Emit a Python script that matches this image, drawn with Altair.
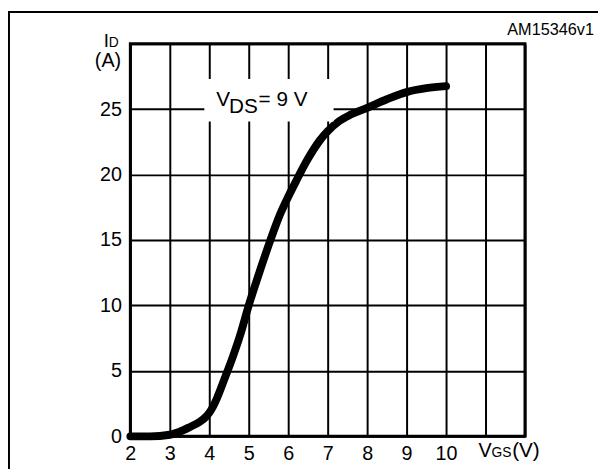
import altair as alt
import pandas as pd

# Transfer characteristic: VGS (V) vs ID (A)
vgs = [2.0, 2.5, 3.0, 3.25, 3.5, 3.75, 3.9, 4.0, 4.1, 4.2, 4.4, 4.6, 4.8, 5.0,
       5.3, 5.55, 5.8, 6.0, 6.2, 6.5, 6.8, 7.0, 7.3, 7.6, 8.0, 8.5, 9.0, 9.5, 10.0]
id_a = [0.0, 0.0, 0.12, 0.35, 0.7, 1.1, 1.45, 1.8, 2.3, 2.95, 4.5, 6.1, 7.9, 10.0,
        12.8, 15.0, 17.0, 18.3, 19.5, 21.2, 22.6, 23.3, 24.1, 24.6, 25.1, 25.75, 26.3, 26.6, 26.75]

x_ticks = [2, 3, 4, 5, 6, 7, 8, 9, 10, 11, 12]
y_ticks = [0, 5, 10, 15, 20, 25, 30]

# white label box (data coords)
box_x = [3.875]
box_x2 = [7.15]
box_y = [24.05]
box_y2 = [27.3]

FONT = "Liberation Sans"

df = pd.DataFrame({"vgs": vgs, "id": id_a})
box_df = pd.DataFrame({"x": box_x, "x2": box_x2, "y": box_y, "y2": box_y2})

xs = alt.Scale(domain=[2, 12], nice=False, zero=False)
ys = alt.Scale(domain=[0, 30], nice=False, zero=False)

x_axis = alt.Axis(values=x_ticks, labelExpr="datum.value <= 10 ? datum.label : ''",
                  title=None, ticks=False, domain=False, grid=True,
                  labelPadding=7, labelFlush=False, labelOverlap=False)
y_axis = alt.Axis(values=y_ticks, labelExpr="datum.value <= 25 ? datum.label : ''",
                  title=None, ticks=False, domain=False, grid=True,
                  labelPadding=9, labelOverlap=False)

curve = alt.Chart(df).mark_line(color="black", strokeWidth=8, strokeCap="round",
                                interpolate="monotone").encode(
    x=alt.X("vgs:Q", scale=xs, axis=x_axis),
    y=alt.Y("id:Q", scale=ys, axis=y_axis),
)

box = alt.Chart(box_df).mark_rect(color="white").encode(
    x=alt.X("x:Q", scale=xs, axis=x_axis), x2="x2:Q",
    y=alt.Y("y:Q", scale=ys, axis=y_axis), y2="y2:Q",
)

one = pd.DataFrame({"k": [0]})


def txt(text, x, y, size=20, align="left", baseline="alphabetic"):
    return alt.Chart(one).mark_text(text=text, font=FONT, fontSize=size, color="black",
                                    align=align, baseline=baseline).encode(
        x=alt.value(x), y=alt.value(y))


labels = [
    txt("V", 87, 63, size=21),
    txt("DS", 100, 70, size=21),
    txt("= 9 V", 130, 63, size=21),
    txt("V", 353, 419, size=20),
    txt("GS", 366, 419, size=14),
    txt("(V)", 387, 419, size=21),
    txt("I", -27, 3, size=19),
    txt("D", -22, 3, size=14),
    txt("(A)", -36, 24, size=20),
    txt("AM15346v1", 470, -9, size=16.5, align="right"),
]

frame_top = alt.Chart(one).mark_rule(color="black", strokeWidth=2).encode(
    x=alt.value(-124), x2=alt.value(474), y=alt.value(-32))
frame_left = alt.Chart(one).mark_rule(color="black", strokeWidth=2).encode(
    x=alt.value(-123), y=alt.value(-33), y2=alt.value(431))

chart = alt.layer(curve, box, frame_top, frame_left, *labels).properties(
    width=400, height=398,
    autosize=alt.AutoSizeParams(type="none"),
    padding={"left": 124, "top": 33, "right": 74, "bottom": 31},
).configure_view(
    stroke="black", strokeWidth=3
).configure_axis(
    labelFont=FONT, labelFontSize=20, labelColor="black",
    gridColor="black", gridWidth=2, gridOpacity=1,
)

chart.save("out.html", embed_options={"renderer": "svg", "actions": False})
